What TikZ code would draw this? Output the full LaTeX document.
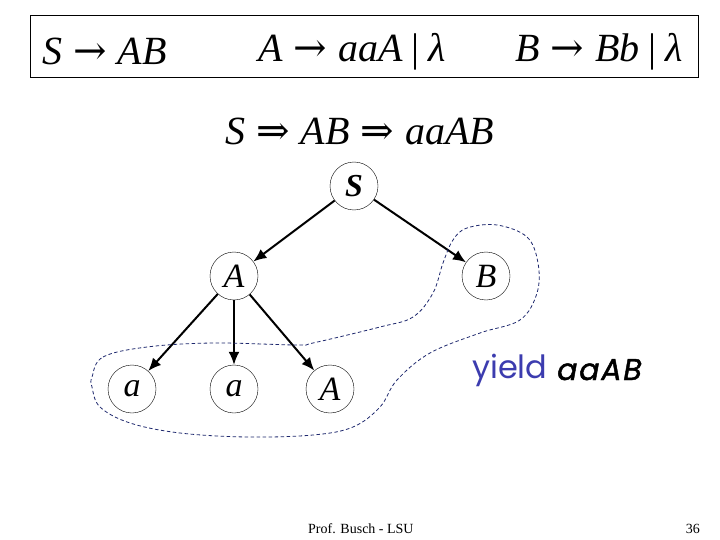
\documentclass[tikz,border=0pt]{standalone}
\usepackage{fontspec}
\setmainfont{Liberation Serif}
\newfontfamily\yieldfont{Poppins}
\newfontfamily\arrfont{DejaVu Serif}
\usetikzlibrary{arrows.meta}
\definecolor{navy}{RGB}{30,40,110}
\definecolor{yieldblue}{RGB}{60,60,175}
\newcommand{\ra}{\hspace{11pt}{\upshape\arrfont\fontsize{40}{40}\selectfont →}\hspace{11pt}}
\newcommand{\dra}{\hspace{11pt}{\upshape\arrfont\fontsize{40}{40}\selectfont ⇒}\hspace{11pt}}
\newcommand{\orbar}{\hspace{9pt}{\upshape|}\hspace{9pt}}
\tikzset{
  tn/.style={circle,draw,thin,minimum size=48pt,inner sep=0pt,font=\fontsize{34}{34}\selectfont\itshape},
  edge/.style={line width=2pt,-{Latex[length=13pt,width=11pt]}},
  big/.style={anchor=base west,inner sep=0pt,font=\fontsize{40}{40}\selectfont\itshape},
}
\begin{document}
\begin{tikzpicture}[x=1pt,y=-1pt]
\useasboundingbox (0,0) rectangle (720,540);
\fill[white] (0,0) rectangle (720,540);
\draw[thin] (30,15) rectangle (698,77);
\node[big] (r1) at (42,65) {S\ra AB};
\node[big] (r2) at (258,62) {A\ra aaA\orbar λ};
\node[big] (r3) at (515,62) {B\ra Bb\orbar λ};
\node[big] (der) at (225,145) {S\dra AB\dra aaAB};
\node[tn,font=\fontsize{32}{32}\selectfont\bfseries\itshape] (S) at (354,186) {S};
\node[tn] (A) at (234,276) {A};
\node[tn] (B) at (486,276) {B};
\node[tn] (a1) at (132,389) {a};
\node[tn] (a2) at (234,389) {a};
\node[tn] (A2) at (330,389) {A};
\draw[edge] (S) -- (A);
\draw[edge] (S) -- (B);
\draw[edge] (A) -- (a1);
\draw[edge] (A) -- (a2);
\draw[edge] (A) -- (A2);
\draw[navy,line width=0.8pt,dash pattern=on 3.5pt off 2.5pt] plot[smooth cycle,tension=0.6] coordinates {
 (92,377) (103,357) (147,347) (213,343) (297,345) (313,343) (380,327) (413,317)
 (433,293) (443,263) (453,240) (467,228) (497,225) (527,237) (538,263) (537,293)
 (520,320) (480,333) (430,353) (397,380) (380,407) (353,427) (313,435) (247,437)
 (180,433) (130,423) (100,407) (92,387)};
\node[anchor=base west,inner sep=0pt,text=yieldblue,font=\yieldfont\fontsize{32}{32}\selectfont] (y) at (472,378) {yield};
\node[anchor=base west,inner sep=0pt,font=\yieldfont\fontsize{30}{30}\selectfont\itshape\addfontfeatures{LetterSpace=6,FakeBold=1.5}] (yv) at (557,380) {aaAB};
\node[anchor=base west,inner sep=0pt,font=\fontsize{14}{14}\selectfont] (ft) at (308,533) {Prof. Busch - LSU};
\node[anchor=base east,inner sep=0pt,font=\fontsize{14}{14}\selectfont] (pg) at (700,533) {36};
\end{tikzpicture}
\end{document}
